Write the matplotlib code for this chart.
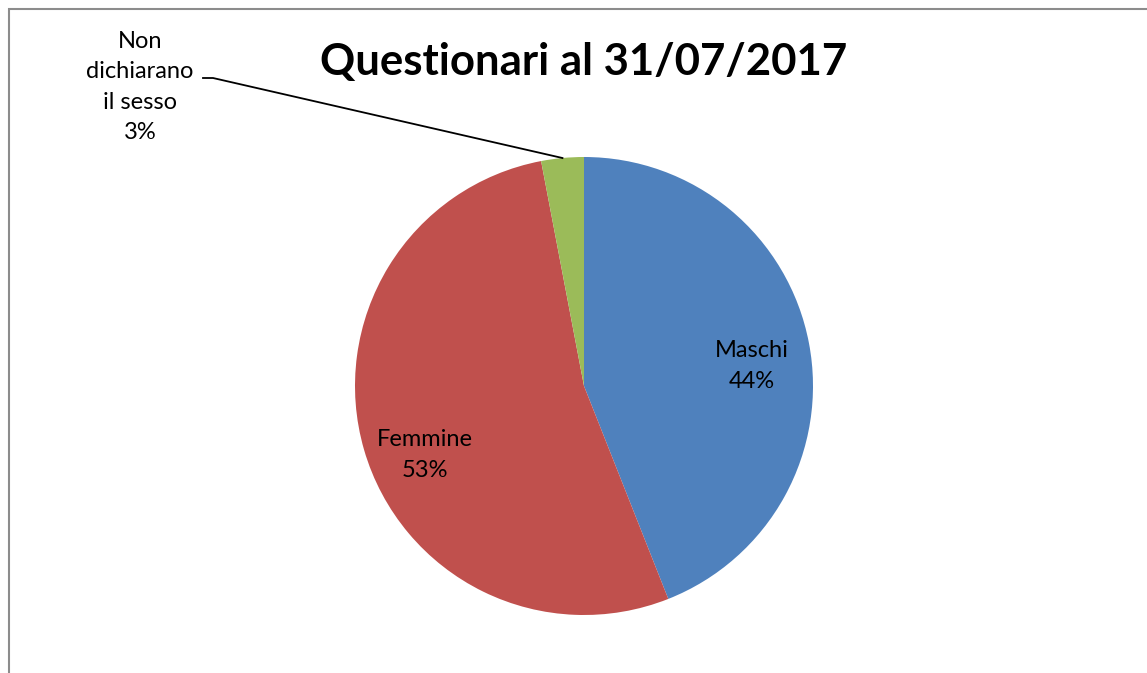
import numpy as np
import matplotlib
matplotlib.use('Agg')
import matplotlib.pyplot as plt
from matplotlib.patches import Rectangle

categories = ['Maschi', 'Femmine', 'Non\ndichiarano\nil sesso']
values = [44, 53, 3]
colors = ['#4F81BD', '#C0504D', '#9BBB59']

plt.rcParams['font.family'] = ['Lato', 'DejaVu Sans']

W, H = 1147, 673
fig = plt.figure(figsize = (W / 100, H / 100), dpi = 100)
ax = fig.add_axes([0, 0, 1, 1])

# chart frame (runs off the right and bottom edges)
ax.add_patch(Rectangle((8.5, -10), W + 20, H - 8.5 + 10, fill = False,
                       edgecolor = '#8c8c8c', linewidth = 1.5))

cx, cy, r = 584, H - 386, 229
wedges, _ = ax.pie(values, colors = colors, startangle = 90, counterclock = False,
                   center = (cx, cy), radius = r, frame = True,
                   wedgeprops = dict(edgecolor = 'none'))
ax.set_xlim(0, W)
ax.set_ylim(0, H)
ax.set_aspect('equal')
ax.axis('off')

total = sum(values)
nudges = [(4, -11), (1, -22)]
for i, (w, name, v) in enumerate(zip(wedges, categories, values)):
    mid = np.deg2rad((w.theta1 + w.theta2) / 2)
    label = f'{name}\n{round(100 * v / total)}%'
    if i < 2:
        d = 0.73 * r
        ax.text(cx + d * np.cos(mid) + nudges[i][0], cy + d * np.sin(mid) + nudges[i][1], label,
                ha = 'center', va = 'center', fontsize = 17, linespacing = 1.6)
    else:
        ex, ey = cx + r * np.cos(mid), cy + r * np.sin(mid)
        ax.text(140, H - 87, label, ha = 'center', va = 'center', fontsize = 17, linespacing = 1.55)
        ax.plot([203, 213, ex], [H - 78, H - 78, ey], color = 'black', linewidth = 1.3)

ax.text(584, H - 62, 'Questionari al 31/07/2017', ha = 'center', va = 'center',
        fontsize = 31.5, fontweight = 'bold')

fig.savefig('out.png', dpi = 100)
